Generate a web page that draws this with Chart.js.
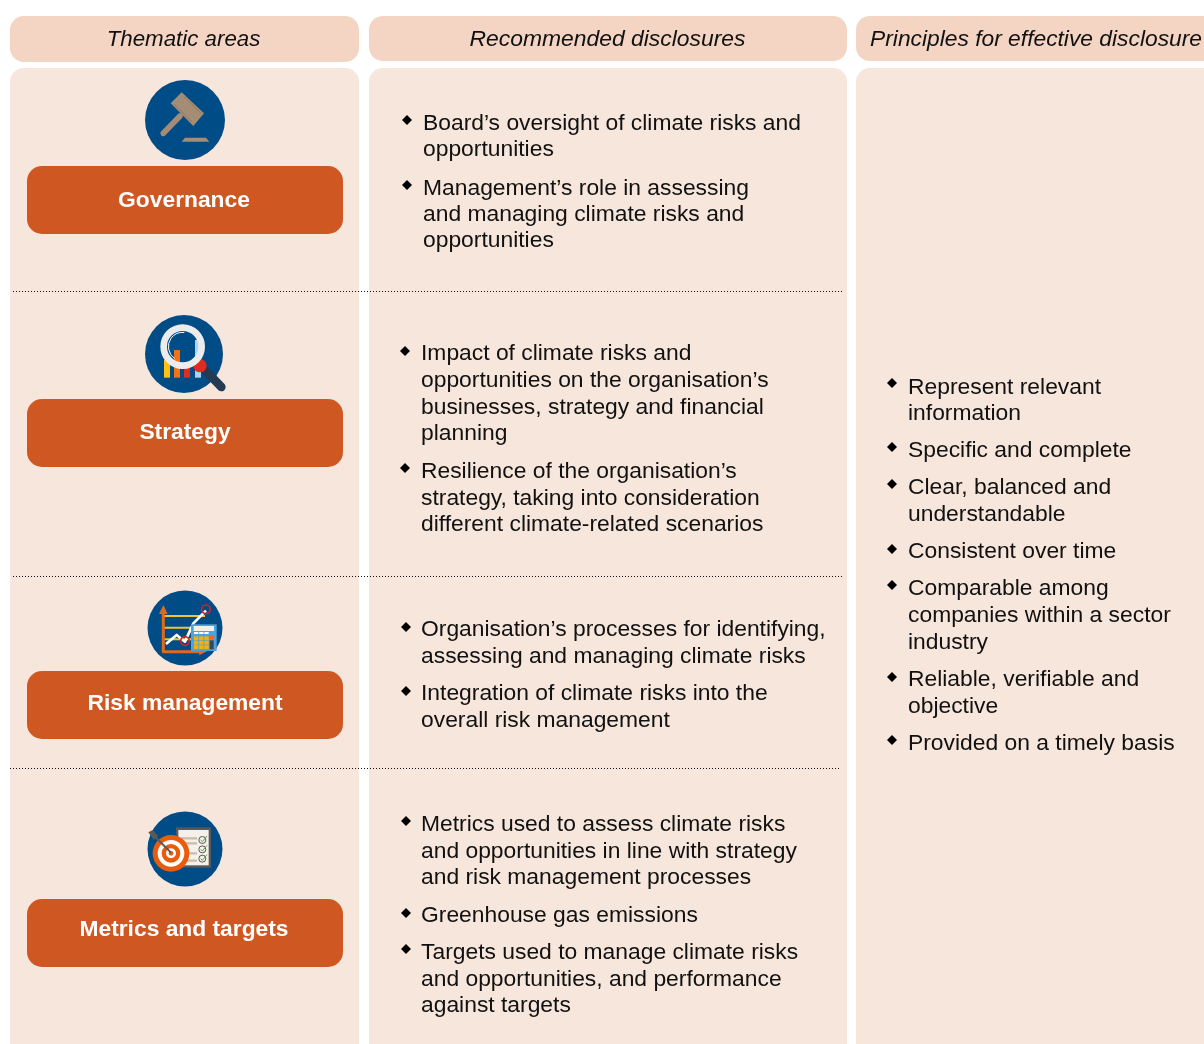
<!DOCTYPE html>
<html>
<head>
<meta charset="utf-8">
<title>Thematic areas</title>
<script src="https://cdn.jsdelivr.net/npm/chart.js@4"></script>
<style>
  html, body { margin: 0; padding: 0; background: #fff; overflow: hidden; }
  canvas { display: block; }
</style>
</head>
<body>
<canvas id="chart" width="1204" height="1044"></canvas>
<script>
// Text of the table
const columnTitles = ['Thematic areas', 'Recommended disclosures', 'Principles for effective disclosure'];
const themes = ['Governance', 'Strategy', 'Risk management', 'Metrics and targets'];
const disclosures = [
  ['Board’s oversight of climate risks and', 'opportunities'],
  ['Management’s role in assessing', 'and managing climate risks and', 'opportunities'],
  ['Impact of climate risks and', 'opportunities on the organisation’s', 'businesses, strategy and financial', 'planning'],
  ['Resilience of the organisation’s', 'strategy, taking into consideration', 'different climate-related scenarios'],
  ['Organisation’s processes for identifying,', 'assessing and managing climate risks'],
  ['Integration of climate risks into the', 'overall risk management'],
  ['Metrics used to assess climate risks', 'and opportunities in line with strategy', 'and risk management processes'],
  ['Greenhouse gas emissions'],
  ['Targets used to manage climate risks', 'and opportunities, and performance', 'against targets']
];
const principles = [
  ['Represent relevant', 'information'],
  ['Specific and complete'],
  ['Clear, balanced and', 'understandable'],
  ['Consistent over time'],
  ['Comparable among', 'companies within a sector', 'industry'],
  ['Reliable, verifiable and', 'objective'],
  ['Provided on a timely basis']
];

// Layout, in the units of the x and y scales
const disclosureX = [423, 423, 421, 421, 421, 421, 421, 421, 421];
const disclosureBulletX = [407, 407, 405, 405, 406, 406, 406, 406, 406];
const disclosureBulletY = [120, 185, 351, 468, 627, 691, 821, 913, 949];
const disclosureY = [[124, 150], [189, 215, 241], [354, 381, 408, 434], [472, 499, 525], [630, 657], [694, 721], [825, 852, 878], [916], [953, 980, 1006]];
const principleY = [[388, 414], [451], [488, 515], [552], [589, 616, 643], [680, 707], [744]];
const principleBulletY = [383, 447, 484, 549, 585, 677, 740];
const headerBoxes = [[10, 16, 359, 62], [369, 16, 847, 61], [856, 16, 1224, 61]];
const bodyBoxes = [[10, 68, 359, 1064], [369, 68, 847, 1064], [856, 68, 1224, 1064]];
const buttonBoxes = [[27, 166, 343, 234], [27, 399, 343, 467], [27, 671, 343, 739], [27, 899, 343, 967]];
const buttonTextPos = [[184, 201], [185, 433], [185, 704], [184, 930]];
const headerTextX = [183.5, 607.5, 1036];
const headerFontSize = [22.3, 22.9, 22.8];
const dividers = [[13, 843, 291.5], [13, 843, 576.5], [10, 840, 768.5]];
const iconCircles = [[185, 120, 40], [184, 354, 39], [185, 628, 37.5], [185, 849, 37.5]];
const iconOrigins = [[130, 70], [130, 305], [130, 580], [130, 800]];

const BODY_FONT = '22.85px "Liberation Sans", Arial, sans-serif';

function roundBox(ctx, sc, box, r, color) {
  const x0 = sc.x.getPixelForValue(box[0]), y0 = sc.y.getPixelForValue(box[1]);
  const x1 = sc.x.getPixelForValue(box[2]), y1 = sc.y.getPixelForValue(box[3]);
  ctx.fillStyle = color;
  ctx.beginPath();
  ctx.roundRect(x0, y0, x1 - x0, y1 - y0, r);
  ctx.fill();
}

function seg(ctx, pts, color, w, cap) {
  ctx.strokeStyle = color;
  ctx.lineWidth = w;
  ctx.lineCap = cap || 'butt';
  ctx.lineJoin = 'round';
  ctx.beginPath();
  pts.forEach((p, i) => i ? ctx.lineTo(p[0], p[1]) : ctx.moveTo(p[0], p[1]));
  ctx.stroke();
}

function disc(ctx, x, y, r, color) {
  ctx.fillStyle = color;
  ctx.beginPath();
  ctx.arc(x, y, r, 0, Math.PI * 2);
  ctx.fill();
}

function poly(ctx, pts, color) {
  ctx.fillStyle = color;
  ctx.beginPath();
  pts.forEach((p, i) => i ? ctx.lineTo(p[0], p[1]) : ctx.moveTo(p[0], p[1]));
  ctx.closePath();
  ctx.fill();
}

// The four pictograms, in 3x units of a crop starting at the icon origin
const iconDrawers = [
  function gavel(ctx) {
    seg(ctx, [[150, 138], [100, 190]], '#a58d75', 17, 'round');
    poly(ctx, [[155, 67], [222, 130], [190, 168], [122, 100]], '#a58d75');
    seg(ctx, [[160, 78], [214, 131]], '#8f7963', 3);
    seg(ctx, [[132, 102], [186, 157]], '#8f7963', 3);
    poly(ctx, [[165, 203], [228, 203], [238, 215], [155, 215]], '#a58d75');
  },
  function magnifier(ctx) {
    ctx.fillStyle = '#ffc20e'; ctx.fillRect(102, 165, 18, 53);
    ctx.fillStyle = '#f47216'; ctx.fillRect(132, 135, 18, 83);
    ctx.fillStyle = '#e02b20'; ctx.fillRect(162, 175, 18, 43);
    ctx.fillStyle = '#a9d5f5'; ctx.fillRect(195, 105, 18, 113);
    seg(ctx, [[228, 198], [274, 246]], '#243b53', 26, 'round');
    disc(ctx, 210, 182, 20, '#e02b20');
    ctx.strokeStyle = '#ececec';
    ctx.lineWidth = 20;
    ctx.beginPath();
    ctx.arc(158, 125, 57, 0, Math.PI * 2);
    ctx.stroke();
    ctx.strokeStyle = '#ffffff';
    ctx.lineWidth = 3;
    ctx.beginPath();
    ctx.arc(158, 125, 43, 2.2, 4.8);
    ctx.stroke();
  },
  function calculator(ctx) {
    [108, 143, 178].forEach(y => seg(ctx, [[100, y], [225, y]], '#f2c230', 6));
    seg(ctx, [[100, 100], [100, 215], [215, 215]], '#e06a1b', 9);
    poly(ctx, [[100, 75], [113, 102], [87, 102]], '#e06a1b');
    poly(ctx, [[205, 208], [232, 213], [208, 226]], '#e06a1b');
    seg(ctx, [[108, 192], [140, 165], [165, 185], [190, 130], [228, 92]], '#ffffff', 8);
    ctx.strokeStyle = '#d3222a';
    ctx.lineWidth = 5;
    [[228, 88], [165, 183]].forEach(c => {
      ctx.beginPath();
      ctx.arc(c[0], c[1], 13, 0, Math.PI * 2);
      ctx.stroke();
    });
    ctx.fillStyle = '#4fa3dc';
    ctx.fillRect(183, 133, 77, 80);
    ctx.fillStyle = '#f2f0ea';
    ctx.fillRect(191, 138, 61, 15);
    for (let r = 0; r < 4; r++) {
      for (let c = 0; c < 3; c++) {
        ctx.fillStyle = r === 0 ? '#ffffff' : '#fbb000';
        ctx.fillRect(192 + c * 15.5, 156 + r * 13.2, 13, r === 0 ? 6 : 11.5);
      }
    }
    ctx.fillStyle = '#f26522';
    ctx.fillRect(239, 165, 12, 13);
    ctx.fillStyle = '#3c4650';
    ctx.fillRect(239, 181, 12, 27);
  },
  function target(ctx) {
    ctx.fillStyle = '#58595b';
    ctx.fillRect(138, 82, 105, 121);
    ctx.fillStyle = '#f5f1ea';
    ctx.fillRect(145, 90, 91, 106);
    [115, 130, 160, 182].forEach(y => seg(ctx, [[145, y], [201, y]], '#c9bdae', 7));
    [120, 148, 176].forEach(y => {
      ctx.strokeStyle = '#58595b';
      ctx.lineWidth = 3;
      ctx.beginPath();
      ctx.arc(217, y, 10.5, 0, Math.PI * 2);
      ctx.stroke();
      seg(ctx, [[212, y], [217, y + 5], [231, y - 12]], '#5aa63a', 3);
    });
    disc(ctx, 123, 160, 55, '#ea5b0c');
    disc(ctx, 123, 160, 40, '#ffffff');
    disc(ctx, 123, 160, 28, '#ea5b0c');
    disc(ctx, 123, 160, 15, '#ffffff');
    disc(ctx, 123, 160, 7, '#ea5b0c');
    seg(ctx, [[70, 105], [123, 158]], '#58595b', 6);
    poly(ctx, [[55, 97], [68, 90], [85, 108], [72, 120]], '#58595b');
  }
];

const tablePlugin = {
  id: 'tablePlugin',
  beforeDatasetsDraw(chart) {
    const ctx = chart.ctx, sc = chart.scales;
    ctx.save();
    headerBoxes.forEach(b => roundBox(ctx, sc, b, 14, '#f4d5c3'));
    bodyBoxes.forEach(b => roundBox(ctx, sc, b, 14, '#f7e6dc'));
    buttonBoxes.forEach(b => roundBox(ctx, sc, b, 15, '#cf5822'));
    ctx.restore();
  },
  afterDatasetsDraw(chart) {
    const ctx = chart.ctx, sc = chart.scales;
    const px = v => sc.x.getPixelForValue(v), py = v => sc.y.getPixelForValue(v);
    ctx.save();
    iconDrawers.forEach((draw, i) => {
      ctx.save();
      ctx.translate(px(iconOrigins[i][0]), py(iconOrigins[i][1]));
      ctx.scale(1 / 3, 1 / 3);
      draw(ctx);
      ctx.restore();
    });
    ctx.textBaseline = 'middle';
    ctx.textAlign = 'center';
    ctx.fillStyle = '#111111';
    columnTitles.forEach((t, i) => {
      ctx.font = 'italic ' + headerFontSize[i] + 'px "Liberation Sans", Arial, sans-serif';
      ctx.fillText(t, px(headerTextX[i]), py(39.5));
    });
    ctx.fillStyle = '#ffffff';
    ctx.font = 'bold 22.8px "Liberation Sans", Arial, sans-serif';
    themes.forEach((t, i) => ctx.fillText(t, px(buttonTextPos[i][0]), py(buttonTextPos[i][1])));
    ctx.textAlign = 'left';
    ctx.fillStyle = '#111111';
    ctx.font = BODY_FONT;
    disclosures.forEach((lines, i) => lines.forEach((t, j) => ctx.fillText(t, px(disclosureX[i]), py(disclosureY[i][j]))));
    principles.forEach((lines, i) => lines.forEach((t, j) => ctx.fillText(t, px(908), py(principleY[i][j]))));
    ctx.restore();
  }
};

const datasets = dividers.map(d => ({
  data: [{ x: d[0], y: d[2] }, { x: d[1], y: d[2] }],
  showLine: true,
  borderColor: '#111111',
  borderWidth: 1,
  borderDash: [1, 2],
  pointRadius: 0
}));
// bullets
datasets.push({
  data: disclosureBulletX.map((x, i) => ({ x: x, y: disclosureBulletY[i] }))
    .concat(principleBulletY.map(y => ({ x: 892, y: y }))),
  pointStyle: 'rectRot',
  pointRadius: 5,
  backgroundColor: '#000000',
  borderWidth: 0
});
// icon discs
datasets.push({
  data: iconCircles.map(c => ({ x: c[0], y: c[1] })),
  pointStyle: 'circle',
  pointRadius: iconCircles.map(c => c[2]),
  backgroundColor: '#004c86',
  borderWidth: 0
});

new Chart(document.getElementById('chart').getContext('2d'), {
  type: 'scatter',
  data: { datasets: datasets },
  options: {
    responsive: false,
    animation: false,
    layout: { padding: 0, autoPadding: false },
    plugins: { legend: { display: false }, tooltip: { enabled: false } },
    scales: {
      x: { type: 'linear', min: 0, max: 1204, display: false },
      y: { type: 'linear', min: 0, max: 1044, reverse: true, display: false }
    }
  },
  plugins: [tablePlugin]
});
</script>
</body>
</html>
